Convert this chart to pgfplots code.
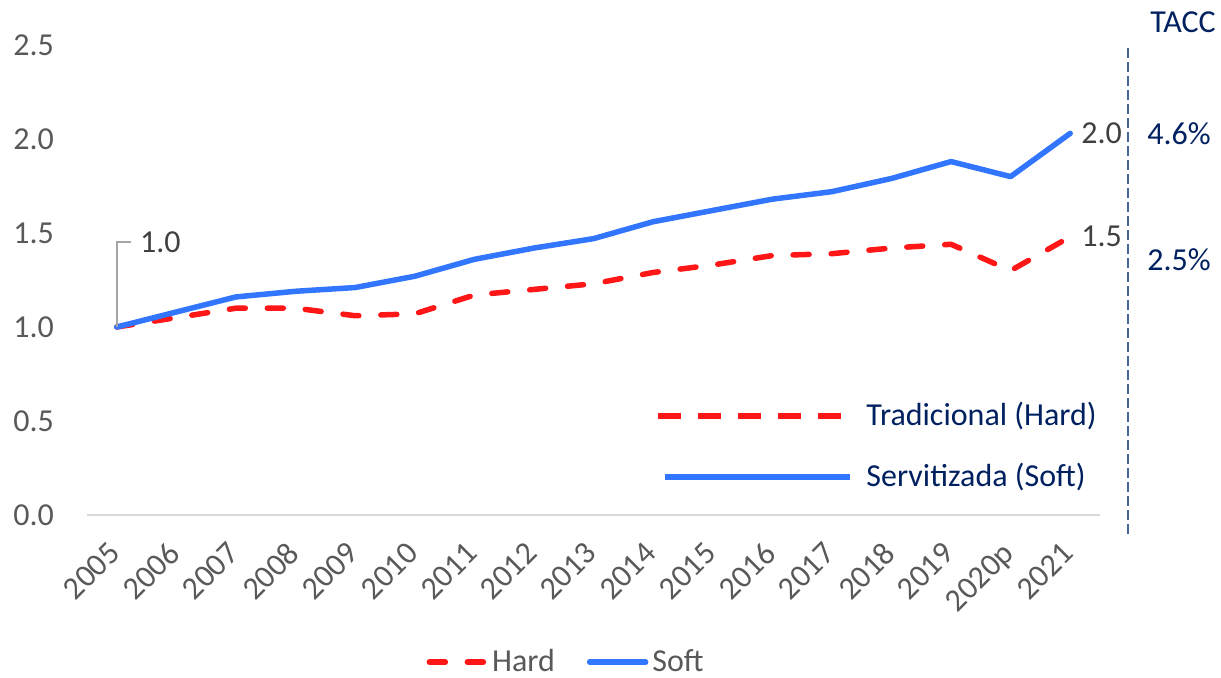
\documentclass[border=0pt]{standalone}
\usepackage{fontspec}
\setmainfont{Carlito}
\usepackage{pgfplots}
\pgfplotsset{compat=1.18}

\definecolor{hardred}{RGB}{255,22,22}
\definecolor{softblue}{RGB}{50,118,255}
\definecolor{ticktxt}{RGB}{89,89,89}
\definecolor{labeltxt}{RGB}{64,64,64}
\definecolor{navy}{RGB}{0,32,96}
\definecolor{slate}{RGB}{72,100,150}
\definecolor{axisgray}{RGB}{217,217,217}

\begin{document}
\begin{tikzpicture}[font=\fontsize{16}{19}\selectfont]
% frame of the whole picture (1 px of the reference = 0.5pt)
\path[use as bounding box] (-43.5pt,-81pt) rectangle (567pt,257.5pt);

\begin{axis}[
  at={(0,0)}, anchor=south west,
  scale only axis,
  width=506.5pt, height=235pt,
  xmin=-0.5, xmax=16.5,
  ymin=0, ymax=2.5,
  xtick={0,...,16},
  xticklabels={2005,2006,2007,2008,2009,2010,2011,2012,2013,2014,2015,2016,2017,2018,2019,2020p,2021},
  ytick={0,0.5,1,1.5,2,2.5},
  axis line style={draw=none},
  major tick length=0pt,
  tick label style={text=ticktxt, font=\fontsize{16}{19}\selectfont},
  /pgf/number format/assume math mode=true,
  yticklabel style={/pgf/number format/.cd, fixed, fixed zerofill, precision=1, /tikz/.cd, xshift=-13pt},
  xticklabel style={rotate=45, anchor=north east, xshift=-9pt, yshift=-2pt},
  clip=false,
  legend columns=2,
  legend style={at={(0.474,-0.313)}, anchor=center, draw=none, fill=none,
    font=\fontsize{16}{19}\selectfont, text=ticktxt,
    /tikz/every even column/.append style={column sep=14pt}},
  legend image code/.code={\draw[#1] (0pt,0pt) -- (28pt,0pt);},
]

\draw[axisgray, line width=1pt] (rel axis cs:0,0) -- (rel axis cs:1,0);

% Hard
\addplot[hardred, line width=2.75pt, dash pattern=on 8pt off 11pt, line cap=round, line join=round] coordinates {
  (0,1.00) (1,1.05) (2,1.10) (3,1.10) (4,1.06) (5,1.07) (6,1.17) (7,1.20) (8,1.23)
  (9,1.29) (10,1.33) (11,1.38) (12,1.39) (13,1.42) (14,1.44) (15,1.30) (16,1.48)
};
\addlegendentry{Hard}

% Soft
\addplot[softblue, line width=2.75pt, line cap=round, line join=round] coordinates {
  (0,1.00) (1,1.08) (2,1.16) (3,1.19) (4,1.21) (5,1.27) (6,1.36) (7,1.42) (8,1.47)
  (9,1.56) (10,1.62) (11,1.68) (12,1.72) (13,1.79) (14,1.88) (15,1.80) (16,2.03)
};
\addlegendentry{Soft}

% data labels
\draw[gray!70, line width=0.75pt] (axis cs:0,1) -- ([yshift=42.5pt]axis cs:0,1)
  -- ([yshift=42.5pt,xshift=7pt]axis cs:0,1)
  node[anchor=west, text=labeltxt, xshift=1pt] {1.0};
\node[anchor=west, text=labeltxt, xshift=2pt] at (axis cs:16,2.03) {2.0};
\node[anchor=west, text=labeltxt, xshift=2pt] at (axis cs:16,1.48) {1.5};
\end{axis}

% line key inside the plot
\draw[hardred, line width=3pt, dash pattern=on 11.5pt off 8.5pt] (285.5pt,49.5pt) -- (379pt,49.5pt);
\node[anchor=west, text=navy, inner sep=0pt] at (389.5pt,49.5pt) {Tradicional (Hard)};
\draw[softblue, line width=3pt] (289pt,19pt) -- (381.5pt,19pt);
\node[anchor=west, text=navy, inner sep=0pt] at (389.5pt,19pt) {Servitizada (Soft)};

% growth rates at the right
\draw[slate, line width=1pt, dash pattern=on 5pt off 2pt] (520.5pt,233.5pt) -- (520.5pt,-10pt);
\node[text=navy] at (548pt,246.5pt) {TACC};
\node[text=navy] at (546pt,190.5pt) {4.6\%};
\node[text=navy] at (546pt,127.5pt) {2.5\%};
\end{tikzpicture}
\end{document}
